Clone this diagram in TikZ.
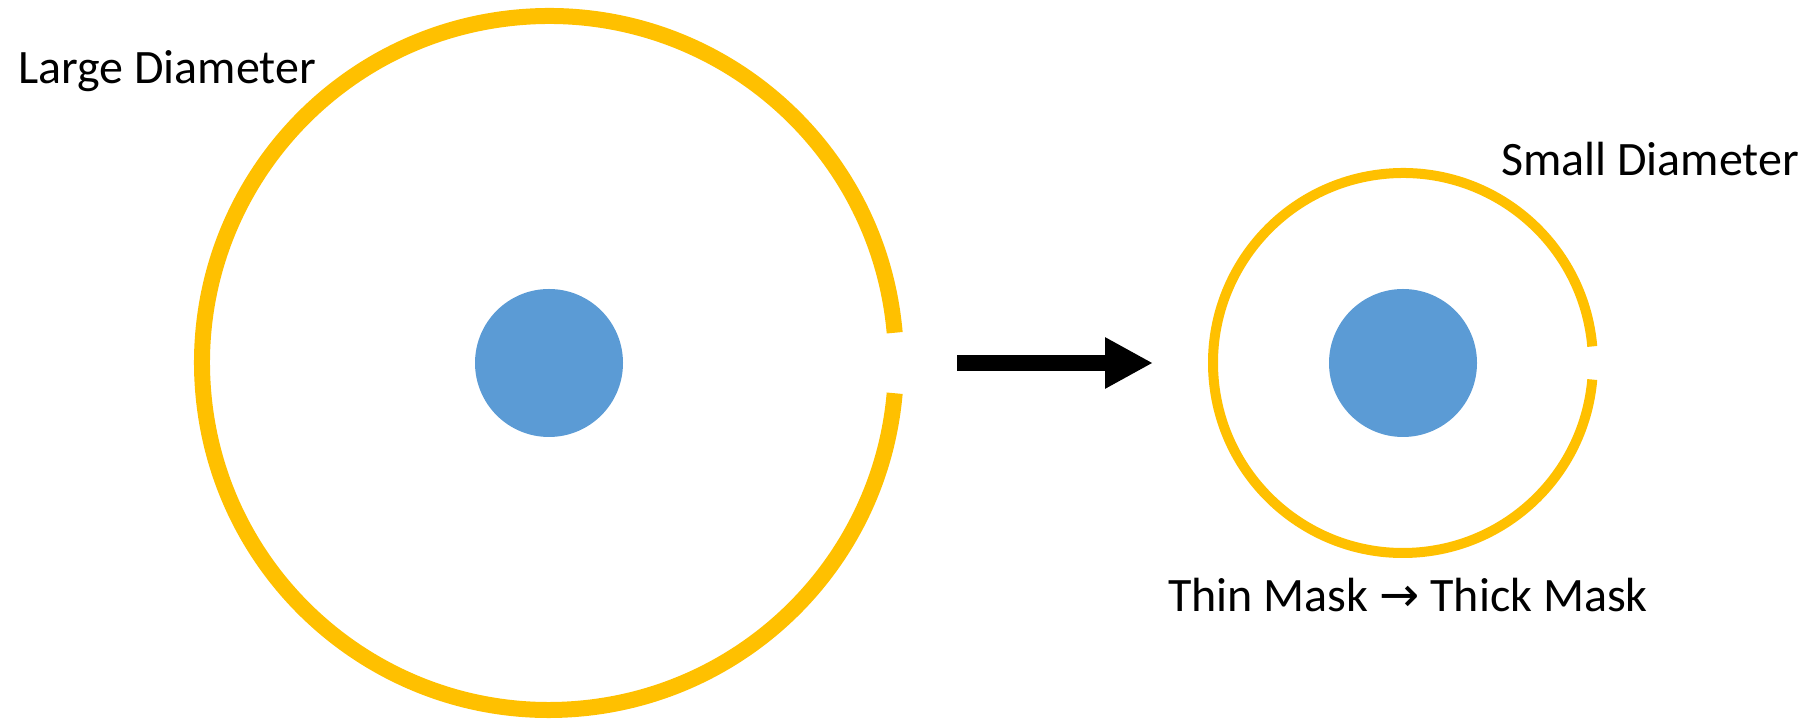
\documentclass[tikz,border=0pt]{standalone}
\usepackage{fontspec}
\setmainfont{Carlito}
\newfontfamily\symfont{DejaVu Sans}
\usetikzlibrary{arrows.meta}
\definecolor{ringyellow}{HTML}{FFC000}
\definecolor{coreblue}{HTML}{5B9BD5}
\begin{document}
\begin{tikzpicture}[x=1pt,y=1pt,
  core/.style={circle,fill=coreblue,draw=none,minimum size=148pt,inner sep=0pt},
  bigring/.style={draw=ringyellow,line width=16pt,line cap=butt},
  smallring/.style={draw=ringyellow,line width=10pt,line cap=butt},
  label/.style={inner sep=0pt,anchor=base west,font=\fontsize{48}{58}\selectfont},
  bigarrow/.style={line width=16pt,-{Triangle[length=48pt,width=48pt]}}
]
\useasboundingbox (0,0) rectangle (1800,719);

% cores
\node[core] (bigc) at (549,356) {};
\node[core] (smallc) at (1403,356) {};

% rings with a small opening on the right
\draw[bigring] ([shift={(5:347pt)}]bigc.center) arc[start angle=5,end angle=355,radius=347pt];
\draw[smallring] ([shift={(5:190pt)}]smallc.center) arc[start angle=5,end angle=355,radius=190pt];

% transition arrow
\coordinate (arrS) at (957,356);
\coordinate (arrE) at (1153,356);
\draw[bigarrow] (arrS) -- (arrE);

% labels
\node[label] (large) at (18,635.5) {Large Diameter};
\node[label] (small) at (1501,543.5) {Small Diameter};
\node[label] (mask) at (1168,107.5) {Thin Mask {\symfont →} Thick Mask};
\end{tikzpicture}
\end{document}
